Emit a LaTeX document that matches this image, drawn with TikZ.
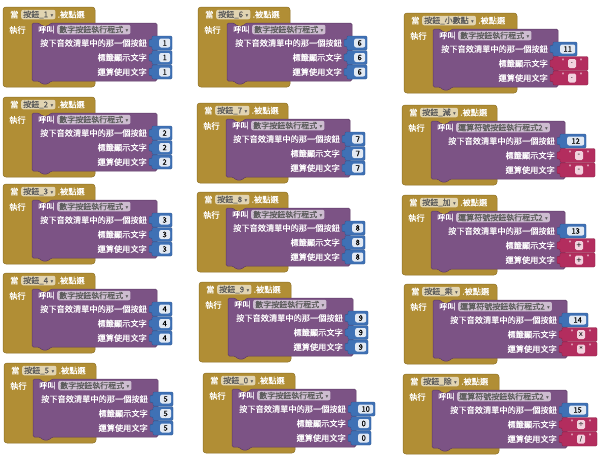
\documentclass[tikz,border=0pt]{standalone}
\usepackage{fontspec}
\setmainfont{Noto Sans CJK TC}[FakeBold=0.6]
\newfontfamily\symf{DejaVu Sans}
\definecolor{gold}{HTML}{B18E35}
\definecolor{goldd}{HTML}{8E7025}
\definecolor{purp}{HTML}{7C5385}
\definecolor{purpd}{HTML}{5E3C66}
\definecolor{mblue}{HTML}{3F71B5}
\definecolor{mblued}{HTML}{2C5590}
\definecolor{tred}{HTML}{B32D5E}
\definecolor{tredd}{HTML}{8A1F45}
\definecolor{tlight}{HTML}{F2D2DE}
\tikzset{
  wtxt/.style={text=white, font=\fontsize{8.2}{9}\selectfont, inner sep=0pt},
  ddbox/.style={fill=white, fill opacity=0.62, text opacity=1, text=black!65,
    rounded corners=2pt, font=\fontsize{8}{9}\selectfont, inner xsep=2pt,
    inner ysep=0.5pt, minimum height=9.5pt},
  numbox/.style={fill=white, fill opacity=0.85, text opacity=1, text=black,
    rounded corners=2pt, font=\fontsize{7.5}{8}\selectfont, inner sep=0pt,
    minimum height=9pt},
  strbox/.style={fill=tlight, text=black, rounded corners=1.5pt,
    font=\symf\fontsize{7}{8}\selectfont, inner sep=0pt, minimum height=9pt,
    minimum width=8pt},
  qmark/.style={text=white, font=\symf\fontsize{6}{6}\selectfont, inner sep=0pt},
  goldblk/.style={fill=gold, draw=goldd, line width=0.5pt, rounded corners=3pt},
  purpblk/.style={fill=purp, draw=purpd, line width=0.5pt, rounded corners=1.5pt},
  numnub/.style={fill=mblue, draw=mblued, line width=0.4pt, rounded corners=1.2pt},
  strnub/.style={fill=tred, draw=tredd, line width=0.4pt, rounded corners=1.2pt},
}
\newcommand\arr{\hspace{2.5pt}{\symf\fontsize{5.5}{5}\selectfont ▾}}
% #1 id, #2 ox, #3 oy, #4 gold width, #5 button label, #6 purple right, #7 procedure
\newcommand\evblock[7]{%
  \begin{scope}[shift={(#2,#3)}]
  \def\pw{#6}\def\bid{#1}%
  \path[goldblk] (0,0) rectangle (#4,80);
  \path[purpblk] (29,16) -- (36,16) -- (39,19) -- (45,19) -- (48,16) -- (#6,16)
    -- (#6,74) -- (48,74) -- (45,77) -- (39,77) -- (36,74) -- (29,74) -- cycle;
  \node[wtxt, anchor=west] (when#1) at (7,7.5) {當};
  \node[ddbox, anchor=west] (btn#1) at (18,7.5) {#5\arr};
  \node[wtxt, anchor=west] (clk#1) at ([xshift=2pt]btn#1.east) {.被點選};
  \node[wtxt, anchor=west] (do#1) at (6,23) {執行};
  \node[wtxt, anchor=west] (call#1) at (35,22.5) {呼叫};
  \node[ddbox, anchor=west] (proc#1) at (54,22.5) {#7\arr};
  \node[wtxt, anchor=east] (ra#1) at (#6-10,36) {按下音效清單中的那一個按鈕};
  \node[wtxt, anchor=east] (rb#1) at (#6-10,50.5) {標籤顯示文字};
  \node[wtxt, anchor=east] (rc#1) at (#6-10,65) {運算使用文字};
}
\newcommand\closeblk{\end{scope}}
% #1 row y, #2 value, #3 nub width, #4 tag
\newcommand\numin[4]{%
  \path[numnub] (\pw-5,#1-7) -- (\pw-5+#3,#1-7) -- (\pw-5+#3,#1+7) -- (\pw-5,#1+7)
    -- (\pw-5,#1+3) -- (\pw-8,#1+4) -- (\pw-8,#1-4) -- (\pw-5,#1-3) -- cycle;
  \node[numbox, minimum width={(#3-9)*1pt}, anchor=west] (v\bid#4) at (\pw+2,#1) {#2};
}
% #1 row y, #2 value, #3 tag
\newcommand\strin[3]{%
  \path[strnub] (\pw-5,#1-7) -- (\pw+30,#1-7) -- (\pw+30,#1+7) -- (\pw-5,#1+7)
    -- (\pw-5,#1+3) -- (\pw-8,#1+4) -- (\pw-8,#1-4) -- (\pw-5,#1-3) -- cycle;
  \node[qmark] (qa\bid#3) at (\pw+5,#1-2.5) {"};
  \node[strbox] (v\bid#3) at (\pw+14,#1) {#2};
  \node[qmark] (qb\bid#3) at (\pw+23,#1-2.5) {"};
}
\begin{document}
\begin{tikzpicture}[x=1pt,y=-1pt]
\useasboundingbox[fill=white] (0,0) rectangle (613,461);
% left column
\evblock{b1}{3}{7}{92}{按鈕\_1}{154}{數字按鈕執行程式}
  \numin{36}{1}{20}{a}\numin{50.5}{1}{20}{b}\numin{65}{1}{20}{c}
\closeblk
\evblock{b2}{3}{97}{92}{按鈕\_2}{154}{數字按鈕執行程式}
  \numin{36}{2}{20}{a}\numin{50.5}{2}{20}{b}\numin{65}{2}{20}{c}
\closeblk
\evblock{b3}{3}{184}{92}{按鈕\_3}{154}{數字按鈕執行程式}
  \numin{36}{3}{20}{a}\numin{50.5}{3}{20}{b}\numin{65}{3}{20}{c}
\closeblk
\evblock{b4}{3}{273}{92}{按鈕\_4}{154}{數字按鈕執行程式}
  \numin{36}{4}{20}{a}\numin{50.5}{4}{20}{b}\numin{65}{4}{20}{c}
\closeblk
\evblock{b5}{4}{363}{92}{按鈕\_5}{154}{數字按鈕執行程式}
  \numin{36}{5}{20}{a}\numin{50.5}{5}{20}{b}\numin{65}{5}{20}{c}
\closeblk
% middle column
\evblock{b6}{198}{7}{92}{按鈕\_6}{154}{數字按鈕執行程式}
  \numin{36}{6}{20}{a}\numin{50.5}{6}{20}{b}\numin{65}{6}{20}{c}
\closeblk
\evblock{b7}{197}{103}{91}{按鈕\_7}{153}{數字按鈕執行程式}
  \numin{36}{7}{20}{a}\numin{50.5}{7}{20}{b}\numin{65}{7}{20}{c}
\closeblk
\evblock{b8}{197}{192}{91}{按鈕\_8}{153}{數字按鈕執行程式}
  \numin{36}{8}{20}{a}\numin{50.5}{8}{20}{b}\numin{65}{8}{20}{c}
\closeblk
\evblock{b9}{199}{282}{92}{按鈕\_9}{154}{數字按鈕執行程式}
  \numin{36}{9}{20}{a}\numin{50.5}{9}{20}{b}\numin{65}{9}{20}{c}
\closeblk
\evblock{b0}{203}{373}{92}{按鈕\_0}{153}{數字按鈕執行程式}
  \numin{36}{10}{24}{a}\numin{50.5}{0}{20}{b}\numin{65}{0}{20}{c}
\closeblk
% right column
\evblock{bp}{404}{13}{113}{按鈕\_小數點}{154}{數字按鈕執行程式}
  \numin{36}{11}{24}{a}\strin{50.5}{.}{b}\strin{65}{.}{c}
\closeblk
\evblock{bm}{402}{105}{95}{按鈕\_減}{163}{運算符號按鈕執行程式2}
  \numin{36}{12}{26}{a}\strin{50.5}{-}{b}\strin{65}{-}{c}
\closeblk
\evblock{ba}{402}{195}{95}{按鈕\_加}{163}{運算符號按鈕執行程式2}
  \numin{36}{13}{26}{a}\strin{50.5}{+}{b}\strin{65}{+}{c}
\closeblk
\evblock{bx}{404}{284}{93}{按鈕\_乘}{163}{運算符號按鈕執行程式2}
  \numin{36}{14}{26}{a}\strin{50.5}{x}{b}\strin{65}{*}{c}
\closeblk
\evblock{bd}{403}{374}{96}{按鈕\_除}{164}{運算符號按鈕執行程式2}
  \numin{36}{15}{26}{a}\strin{50.5}{÷}{b}\strin{65}{/}{c}
\closeblk
\end{tikzpicture}
\end{document}
